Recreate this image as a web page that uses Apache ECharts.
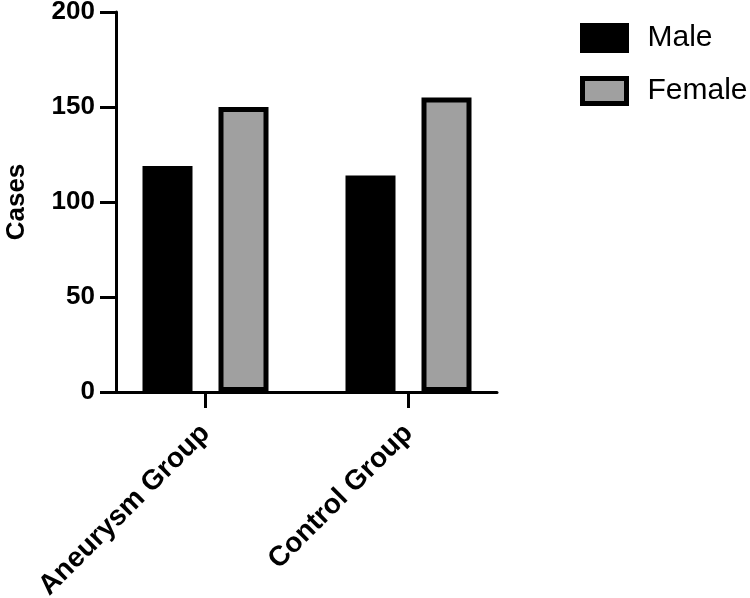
<!DOCTYPE html>
<html><head><meta charset="utf-8">
<script src="https://cdn.jsdelivr.net/npm/echarts@6/dist/echarts.min.js"></script>
<style>html,body{margin:0;padding:0;background:#fff}#c{width:750px;height:598px}</style>
</head><body><div id="c"></div>
<script>
const categories = ['Aneurysm Group', 'Control Group'];
const maleValues = [119, 114];
const femaleValues = [150, 155];
const yTicks = [0, 50, 100, 150, 200];

const FONT = '"Liberation Sans", Arial, Helvetica, sans-serif';
const chart = echarts.init(document.getElementById('c'));
chart.setOption({
  animation: false,
  textStyle: { fontFamily: FONT },
  legend: {
    left: 580, top: 23, orient: 'vertical', padding: 0,
    itemWidth: 44, itemHeight: 25, itemGap: 23,
    textStyle: { fontSize: 30, color: '#000', fontFamily: FONT, padding: [0, 0, 0, 16] },
    data: [
      { name: 'Male', icon: 'rect', itemStyle: { color: '#000', borderColor: '#000', borderWidth: 5 } },
      { name: 'Female', icon: 'rect', itemStyle: { color: '#a0a0a0', borderColor: '#000', borderWidth: 5 } }
    ]
  },
  grid: [
    { left: 116, top: 12, width: 381, height: 380, containLabel: false, outerBoundsMode: 'none' },
    { left: 104, top: 12, width: 406, height: 380, containLabel: false, outerBoundsMode: 'none' }
  ],
  xAxis: [
    { gridIndex: 0, type: 'value', min: 0, max: 1,
      axisLine: { show: true, onZero: false, lineStyle: { color: '#000', width: 3 } },
      axisTick: { show: false }, axisLabel: { show: false }, splitLine: { show: false } },
    { gridIndex: 1, type: 'category', data: categories,
      axisLine: { show: false },
      axisTick: { show: true, alignWithLabel: true, length: 16, lineStyle: { color: '#000', width: 3 } },
      axisLabel: { rotate: 45, fontSize: 28, fontWeight: 'bold', color: '#000', margin: 37, fontFamily: FONT },
      splitLine: { show: false } }
  ],
  yAxis: [
    { gridIndex: 0, type: 'value', min: 0, max: 200, interval: 50,
      axisLine: { show: true, onZero: false, lineStyle: { color: '#000', width: 3 } },
      axisTick: { show: true, length: 16, lineStyle: { color: '#000', width: 3 } },
      axisLabel: { fontSize: 26, fontWeight: 'bold', color: '#000', margin: 21, fontFamily: FONT },
      splitLine: { show: false },
      name: 'Cases', nameLocation: 'middle', nameGap: 86, nameRotate: 90,
      nameTextStyle: { fontSize: 26, fontWeight: 'bold', color: '#000', fontFamily: FONT } },
    { gridIndex: 1, type: 'value', min: 0, max: 200, show: false }
  ],
  series: [
    { name: 'Male', type: 'bar', xAxisIndex: 1, yAxisIndex: 1, data: maleValues,
      barWidth: 50, barGap: '52%',
      itemStyle: { color: '#000', borderColor: '#000', borderWidth: 5 } },
    { name: 'Female', type: 'bar', xAxisIndex: 1, yAxisIndex: 1, data: femaleValues,
      barWidth: 50,
      itemStyle: { color: '#a0a0a0', borderColor: '#000', borderWidth: 5 } }
  ]
});
</script></body></html>
